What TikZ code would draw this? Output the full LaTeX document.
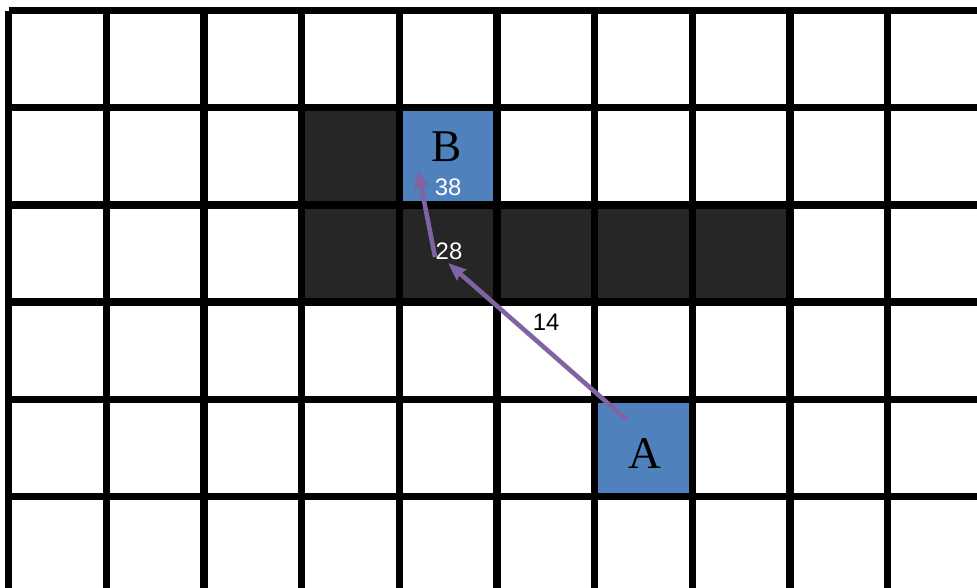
\documentclass[tikz,border=0pt]{standalone}
\usepackage{fontspec}
\setmainfont{Liberation Serif}
\setsansfont{Liberation Sans}
\usetikzlibrary{arrows.meta}
\definecolor{wall}{HTML}{262626}
\definecolor{cellblue}{HTML}{4F81BD}
\definecolor{pathpurple}{HTML}{8064A2}
\tikzset{
  cost/.style={font=\sffamily\fontsize{6.8}{8}\selectfont,inner sep=0pt},
  letter/.style={font=\fontsize{12.9}{14}\selectfont,inner sep=0pt},
  hop/.style={pathpurple,line width=1.3pt,-{Stealth[length=1.8mm,width=1.4mm,inset=0.2mm]}}
}
\begin{document}
\begin{tikzpicture}[x=0.977cm,y=0.972cm]
		\useasboundingbox[fill=white] (-0.087,0.108) rectangle (9.913,-5.941);
		\begin{scope}
		\clip (-0.087,0.108) rectangle (9.913,-5.941);
		% walls and end cells
		\fill[wall] (3,-1) rectangle (4,-2);
		\fill[wall] (3,-2) rectangle (8,-3);
		\fill[cellblue] (4,-1) rectangle (5,-2);
		\fill[cellblue] (6,-4) rectangle (7,-5);
		% grid
		\foreach \X in {0,...,10} {
			\draw[line width=2.1pt] (\X,0) -- (\X,-6.5);}
		\foreach \Y in {0,...,6} {
			\draw[line width=2.1pt] (0,-\Y) -- (10.5,-\Y);}
		\end{scope}

		\node[letter] (B) at (4.488,-1.404) {B};
		\node[letter] (A) at (6.515,-4.553) {A};
		\node[cost,white] (c38) at (4.499,-1.816) {38};
		\node[cost,white] (c28) at (4.509,-2.474) {28};
		\node[cost] (c14) at (5.502,-3.205) {14};

		\coordinate (startA) at (6.330,-4.213);
		\coordinate (mid) at (4.499,-2.598);
		\coordinate (midB) at (4.366,-2.536);
		\coordinate (endB) at (4.191,-1.641);
		\draw[hop] (startA) -- (mid);
		\draw[hop] (midB) -- (endB);
\end{tikzpicture}
\end{document}
